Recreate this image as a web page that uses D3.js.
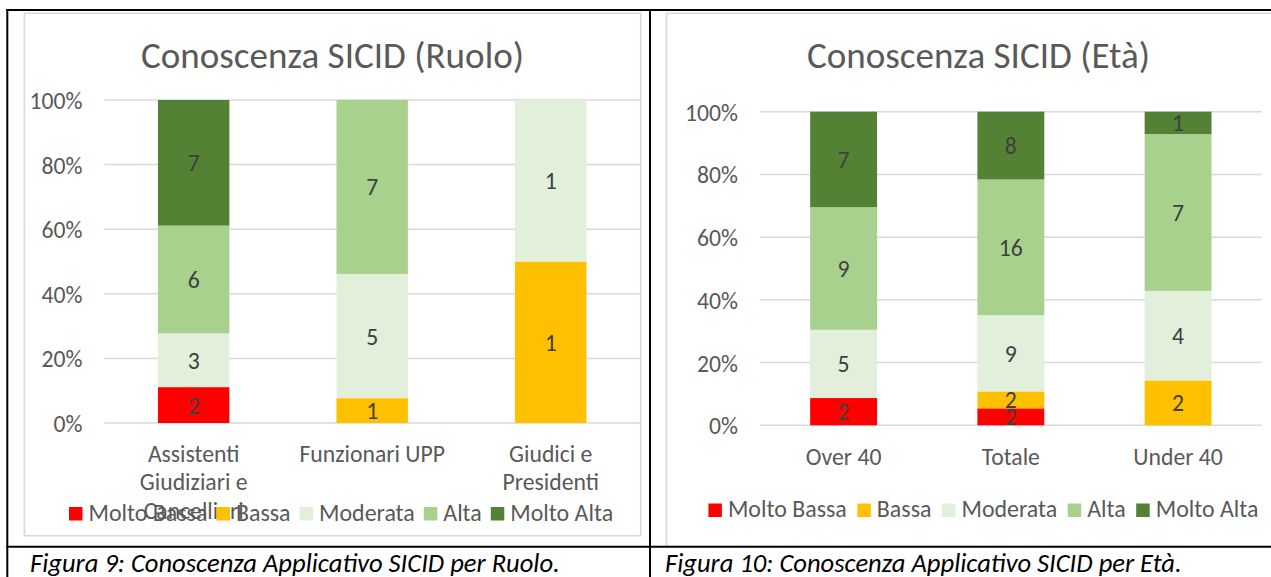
<!DOCTYPE html>
<html><head><meta charset="utf-8">
<script src="https://cdn.jsdelivr.net/npm/d3@7"></script>
<style>
html,body{margin:0;padding:0;background:#fff;}
svg{display:block;}
</style></head><body>
<svg id="c" width="1271" height="577"></svg>
<script>
// ---------- DATA ----------
const seriesNames = ["Molto Bassa", "Bassa", "Moderata", "Alta", "Molto Alta"];
const seriesColors = ["#FF0000", "#FFC000", "#E2EFDA", "#A9D18E", "#548235"];
const percentTicks = [0, 0.2, 0.4, 0.6, 0.8, 1];

const ruoloTitle = "Conoscenza SICID (Ruolo)";
const ruoloCategories = ["Assistenti Giudiziari e Cancellieri", "Funzionari UPP", "Giudici e Presidenti"];
const ruoloMoltoBassa = [2, 0, 0];
const ruoloBassa      = [0, 1, 1];
const ruoloModerata   = [3, 5, 1];
const ruoloAlta       = [6, 7, 0];
const ruoloMoltoAlta  = [7, 0, 0];
const ruoloCaption = "Figura 9: Conoscenza Applicativo SICID per Ruolo.";

const etaTitle = "Conoscenza SICID (Età)";
const etaCategories = ["Over 40", "Totale", "Under 40"];
const etaMoltoBassa = [2, 2, 0];
const etaBassa      = [0, 2, 2];
const etaModerata   = [5, 9, 4];
const etaAlta       = [9, 16, 7];
const etaMoltoAlta  = [7, 8, 1];
const etaCaption = "Figura 10: Conoscenza Applicativo SICID per Età.";

// ---------- STYLE ----------
const FONT = "Carlito, Lato, 'Open Sans', sans-serif";
const TEXT_GRAY = "#595959";
const LABEL_GRAY = "#404040";
const GRID = "#D9D9D9";

const svg = d3.select("#c");

// font calibration to reference widths (Calibri-like metrics)
const meas = svg.append("text").attr("x", -2000).attr("y", -2000).style("font-family", FONT);
function fit(str, target, italic) {
  meas.style("font-style", italic ? "italic" : "normal").style("font-size", "100px").text(str);
  const w = meas.node().getComputedTextLength();
  return 100 * target / w;
}
function textW(str, size, italic) {
  meas.style("font-style", italic ? "italic" : "normal").style("font-size", size + "px").text(str);
  return meas.node().getComputedTextLength();
}
const FS_TITLE = fit("Conoscenza SICID (Ruolo)", 383);
const FS_TICK = fit("100%", 53);
const FS_CAT = fit("Funzionari UPP", 145.6);
const FS_LEG = fit("Moderata", 95.8);
const FS_LAB = FS_CAT;
const FS_CAP = fit("Figura 9: Conoscenza Applicativo SICID per Ruolo.", 530, true);

function wrap(str, maxW, size) {
  const words = str.split(" ");
  const lines = [];
  let cur = "";
  words.forEach(w => {
    const t = cur ? cur + " " + w : w;
    if (cur && textW(t, size) > maxW) { lines.push(cur); cur = w; } else cur = t;
  });
  if (cur) lines.push(cur);
  return lines;
}

function drawChart(cfg) {
  const g = svg.append("g");
  // chart area border
  g.append("rect")
    .attr("x", cfg.area[0]).attr("y", cfg.area[1])
    .attr("width", cfg.area[2] - cfg.area[0]).attr("height", cfg.area[3] - cfg.area[1])
    .attr("fill", "#fff").attr("stroke", GRID).attr("stroke-width", 1.6);

  // title
  g.append("text").attr("x", cfg.titleX).attr("y", cfg.titleY)
    .attr("text-anchor", "middle").style("font-family", FONT).style("font-size", FS_TITLE + "px")
    .attr("fill", TEXT_GRAY).text(cfg.title);

  const x = d3.scaleBand().domain(cfg.categories).range([cfg.plotLeft, cfg.plotRight])
    .paddingInner(0.6).paddingOuter(0.3);
  const y = d3.scaleLinear().domain([0, 1]).range([cfg.yBottom, cfg.yTop]);

  // gridlines
  g.append("g").selectAll("line").data(percentTicks).join("line")
    .attr("x1", cfg.plotLeft).attr("x2", cfg.plotRight)
    .attr("y1", d => y(d)).attr("y2", d => y(d))
    .attr("stroke", GRID).attr("stroke-width", 1.5);

  // y axis
  const ax = g.append("g").attr("transform", `translate(${cfg.plotLeft},0)`)
    .call(d3.axisLeft(y).tickValues(percentTicks).tickFormat(d3.format(".0%")).tickSize(0).tickPadding(22));
  ax.select(".domain").remove();
  ax.attr("font-family", null).attr("font-size", null);
  ax.selectAll("text").style("font-family", FONT).style("font-size", FS_TICK + "px")
    .attr("fill", TEXT_GRAY).attr("dy", "0.36em");

  // stacked data
  const rows = cfg.categories.map((c, i) => {
    const r = { cat: c };
    seriesNames.forEach((s, k) => r[s] = cfg.series[k][i]);
    return r;
  });
  const stacked = d3.stack().keys(seriesNames).offset(d3.stackOffsetExpand)(rows);
  const color = d3.scaleOrdinal().domain(seriesNames).range(seriesColors);

  const segs = [];
  stacked.forEach(layer => layer.forEach(d => {
    const v = d.data[layer.key];
    if (v > 0) segs.push({ key: layer.key, cat: d.data.cat, y0: d[0], y1: d[1], v });
  }));

  g.append("g").selectAll("rect").data(segs).join("rect")
    .attr("x", d => x(d.cat)).attr("width", x.bandwidth())
    .attr("y", d => y(d.y1)).attr("height", d => y(d.y0) - y(d.y1))
    .attr("fill", d => color(d.key));

  g.append("g").selectAll("text").data(segs).join("text")
    .attr("x", d => x(d.cat) + x.bandwidth() / 2)
    .attr("y", d => (y(d.y0) + y(d.y1)) / 2)
    .attr("dy", "0.36em").attr("text-anchor", "middle")
    .style("font-family", FONT).style("font-size", FS_LAB + "px")
    .attr("fill", LABEL_GRAY).text(d => d.v);

  // category labels
  const cg = g.append("g");
  cfg.categories.forEach(c => {
    const lines = wrap(c, cfg.wrapWidth, FS_CAT);
    lines.forEach((ln, li) => {
      cg.append("text").attr("x", x(c) + x.bandwidth() / 2)
        .attr("y", cfg.catBaseline + li * 28.5)
        .attr("text-anchor", "middle").style("font-family", FONT).style("font-size", FS_CAT + "px")
        .attr("fill", TEXT_GRAY).text(ln);
    });
  });

  // legend
  const lg = g.append("g");
  let lx = cfg.legendX;
  const sq = 13.5;
  seriesNames.forEach((s, k) => {
    lg.append("rect").attr("x", lx).attr("y", cfg.legendBaseline - sq)
      .attr("width", sq).attr("height", sq).attr("fill", seriesColors[k]);
    lx += sq + 6;
    lg.append("text").attr("x", lx).attr("y", cfg.legendBaseline)
      .style("font-family", FONT).style("font-size", FS_LEG + "px")
      .attr("fill", TEXT_GRAY).text(s);
    lx += textW(s, FS_LEG) + cfg.legendGap;
  });

  // caption
  svg.append("text").attr("x", cfg.captionX).attr("y", 571.5)
    .style("font-family", FONT).style("font-style", "italic").style("font-size", FS_CAP + "px")
    .attr("fill", "#000").text(cfg.caption);
}

drawChart({
  title: ruoloTitle, titleX: 332.5, titleY: 68,
  categories: ruoloCategories,
  series: [ruoloMoltoBassa, ruoloBassa, ruoloModerata, ruoloAlta, ruoloMoltoAlta],
  caption: ruoloCaption, captionX: 30,
  area: [24.4, 13.3, 640.7, 535.7],
  plotLeft: 104.4, plotRight: 640, yTop: 100, yBottom: 423,
  catBaseline: 461.7, wrapWidth: 160,
  legendX: 69, legendBaseline: 520.5, legendGap: 9
});

drawChart({
  title: etaTitle, titleX: 978.5, titleY: 68,
  categories: etaCategories,
  series: [etaMoltoBassa, etaBassa, etaModerata, etaAlta, etaMoltoAlta],
  caption: etaCaption, captionX: 665,
  area: [666.5, 13.3, 1285, 546.5],
  plotLeft: 760, plotRight: 1261.7, yTop: 111.7, yBottom: 425.3,
  catBaseline: 465, wrapWidth: 160,
  legendX: 708.4, legendBaseline: 517, legendGap: 10.5
});

meas.remove();

// table borders
const tb = svg.append("g").attr("stroke", "#000").attr("stroke-width", 2);
tb.append("line").attr("x1", 6.3).attr("x2", 1271).attr("y1", 10).attr("y2", 10);
tb.append("line").attr("x1", 7.3).attr("x2", 7.3).attr("y1", 9).attr("y2", 577);
tb.append("line").attr("x1", 650).attr("x2", 650).attr("y1", 9).attr("y2", 577);
tb.append("line").attr("x1", 6.3).attr("x2", 1271).attr("y1", 546.7).attr("y2", 546.7);
</script>
</body></html>
